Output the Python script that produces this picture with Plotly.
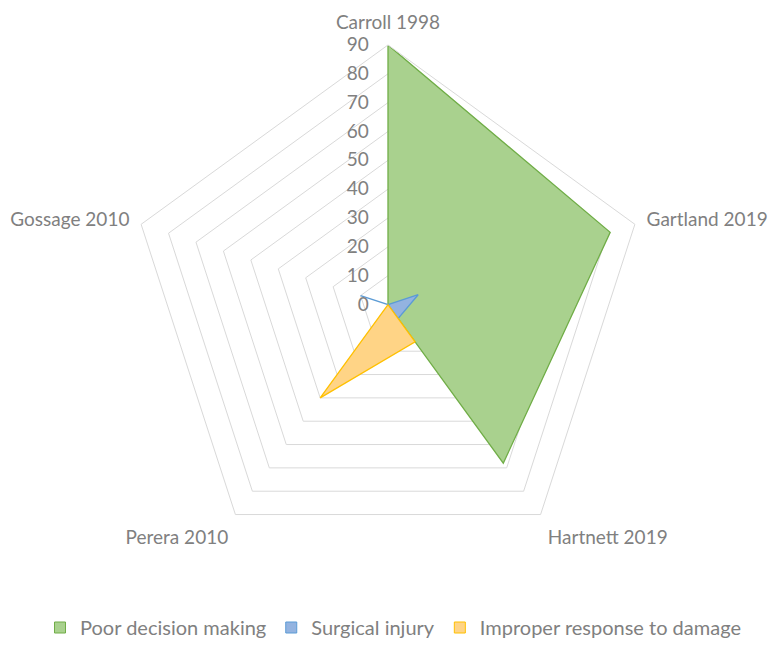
import plotly.graph_objects as go

categories = ["Carroll 1998", "Gartland 2019", "Hartnett 2019", "Perera 2010", "Gossage 2010"]
poor_decision = [90, 81, 68, 0, 0]
surgical_injury = [0, 11, 6, 0, 10]
improper_response = [0, 0, 16, 40, 0]

series = [
    ("Poor decision making", poor_decision, "#a9d18e", "#70ad47"),
    ("Surgical injury", surgical_injury, "#93b3e0", "#5b9bd5"),
    ("Improper response to damage", improper_response, "#ffd486", "#ffc000"),
]

W, H = 770, 639  # page body has an 8px margin
fig = go.Figure()
for name, vals, fill, line in series:
    fig.add_trace(go.Scatterpolar(
        r=vals + vals[:1], theta=categories + categories[:1],
        name=name, mode="lines", fill="toself", showlegend=False,
        fillcolor=fill, line=dict(color=line, width=1.3),
    ))
# square legend swatches like Excel
for name, vals, fill, line in series:
    fig.add_trace(go.Scatterpolar(
        r=[None], theta=[categories[0]], name=name, mode="markers",
        marker=dict(symbol="square", size=11, color=fill, line=dict(color=line, width=1)),
    ))

gray = "#808080"
fig.update_layout(
    width=W, height=H,
    margin=dict(l=0, r=0, t=0, b=0),
    paper_bgcolor="white",
    font=dict(family="Lato, Calibri, sans-serif", size=19, color=gray),
    polar=dict(
        domain=dict(x=[120 / W, 640 / W], y=[82 / H, 602 / H]),
        gridshape="linear",
        bgcolor="white",
        radialaxis=dict(
            range=[0, 90], dtick=10, angle=90, tickangle=90,
            showline=False, gridcolor="#d9d9d9", gridwidth=1,
            ticks="outside", ticklen=12, tickcolor="rgba(0,0,0,0)",
            tickfont=dict(size=19, color=gray), side="counterclockwise",
        ),
        angularaxis=dict(
            direction="clockwise", rotation=90, showgrid=False,
            showline=True, linecolor="#d9d9d9",
            ticks="outside", ticklen=8, tickcolor="rgba(0,0,0,0)",
            tickfont=dict(size=19, color=gray),
        ),
    ),
    legend=dict(orientation="h", x=0.5, xanchor="center", y=19 / H, yanchor="middle",
                font=dict(size=20, color=gray), itemwidth=30),
)

fig.write_html("out.html")
